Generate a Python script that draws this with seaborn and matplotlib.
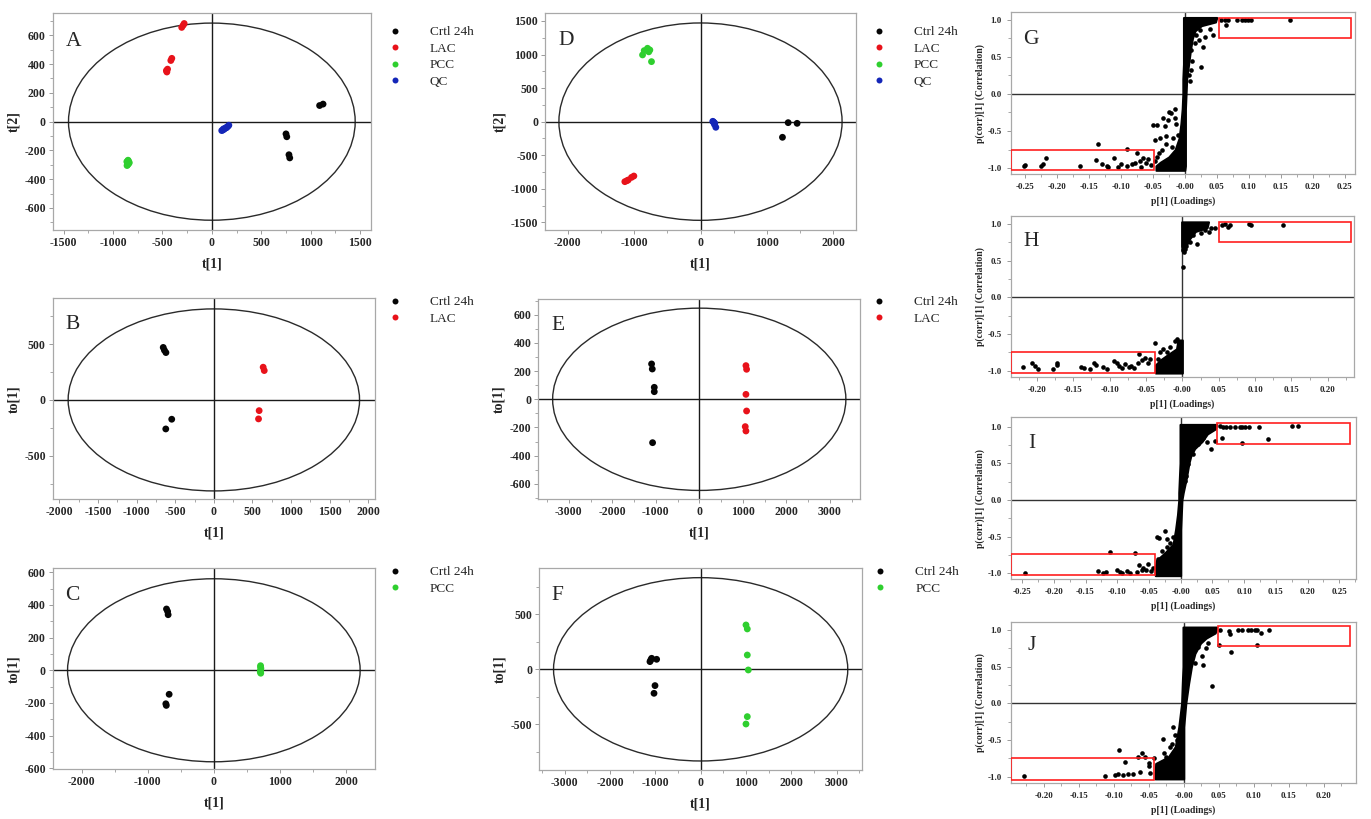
import pandas as pd
import matplotlib
matplotlib.use("Agg")
import matplotlib.pyplot as plt
import seaborn as sns
from matplotlib.patches import Ellipse, Rectangle
from matplotlib.lines import Line2D
from matplotlib.ticker import MultipleLocator, AutoMinorLocator, FuncFormatter

# ---------------- score plots ----------------
# panel A  PCA, all groups
A_CTRL_T1 = [1090, 1125, 750, 758, 780, 788]
A_CTRL_T2 = [112, 122, -85, -105, -230, -252]
A_LAC_T1 = [-305, -290, -280, -415, -405, -455, -448, -460]
A_LAC_T2 = [655, 670, 682, 425, 440, 345, 365, 355]
A_PCC_T1 = [-860, -845, -852, -835, -858, -842, -848]
A_PCC_T2 = [-278, -272, -300, -285, -305, -292, -268]
A_QC_T1 = [100, 112, 125, 138, 150, 162, 172, 118, 145]
A_QC_T2 = [-62, -58, -52, -45, -40, -33, -25, -50, -42]

# panel B  OPLS-DA Ctrl vs LAC
B_CTRL_T1 = [-655, -640, -620, -545, -622]
B_CTRL_T2 = [470, 445, 424, -173, -260]
B_LAC_T1 = [638, 652, 586, 578]
B_LAC_T2 = [293, 263, -96, -170]

# panel C  OPLS-DA Ctrl vs PCC
C_CTRL_T1 = [-717, -700, -692, -677, -727, -720]
C_CTRL_T2 = [375, 360, 340, -147, -205, -215]
C_PCC_T1 = [707, 712, 705, 710, 708, 703]
C_PCC_T2 = [28, 12, -3, -18, 20, -10]

# panel D  PCA, all groups (second mode)
D_CTRL_T1 = [1322, 1457, 1236]
D_CTRL_T2 = [-15, -25, -233]
D_LAC_T1 = [-1141, -1110, -1090, -1040, -1005]
D_LAC_T2 = [-894, -880, -869, -830, -810]
D_PCC_T1 = [-874, -849, -799, -764, -739, -780]
D_PCC_T2 = [994, 1058, 1093, 1068, 894, 1040]
D_QC_T1 = [185, 200, 216, 231, 195, 210]
D_QC_T2 = [5, -10, -25, -84, -5, -40]

# panel E
E_CTRL_T1 = [-1096, -1080, -1034, -1034, -1073]
E_CTRL_T2 = [251, 215, 85, 54, -308]
E_LAC_T1 = [1073, 1088, 1073, 1088, 1057, 1073]
E_LAC_T2 = [239, 213, 35, -83, -194, -225]

# panel F
F_CTRL_T1 = [-1118, -1081, -971, -1007, -1029, -1100]
F_CTRL_T2 = [70, 100, 91, -148, -218, 85]
F_PCC_T1 = [1000, 1029, 1029, 1051, 1029, 1000]
F_PCC_T2 = [403, 367, 130, -6, -430, -497]

# Hotelling T2 ellipses (semi axes)
ELL_A = (1450, 685)
ELL_B = (1885, 815)
ELL_C = (2215, 560)
ELL_D = (2135, 1470)
ELL_E = (3370, 647)
ELL_F = (3245, 833)

# ---------------- S-plots ----------------
# dense core of each S-plot: y level, left and right edge of the point cloud
G_CORE_Y = [1.03, 0.97, 0.92, 0.85, 0.75, 0.6, 0.4, 0.2, 0.0, -0.2, -0.4, -0.6, -0.75, -0.85, -0.92, -0.97, -1.03]
G_CORE_L = [-0.002, -0.002, -0.002, -0.002, -0.002, -0.002, -0.002, -0.003, -0.003, -0.004, -0.006, -0.009, -0.015, -0.025, -0.038, -0.045, -0.045]
G_CORE_R = [0.050, 0.048, 0.026, 0.016, 0.012, 0.009, 0.006, 0.003, 0.002, 0.001, 0.001, 0.001, 0.001, 0.001, 0.001, 0.001, 0.0]
G_PTS_X = [0.057, 0.063, 0.068, 0.081, 0.089, 0.094, 0.099, 0.104, 0.164, 0.064, 0.044, 0.039, 0.031, 0.029,
           0.024, 0.022, 0.025, 0.018, 0.016, 0.010, 0.009, 0.008, 0.012, 0.006,
           -0.251, -0.249, -0.225, -0.222, -0.217, -0.163, -0.136, -0.138, -0.129, -0.122, -0.120, -0.110,
           -0.104, -0.099, -0.091, -0.090, -0.083, -0.078, -0.074, -0.070, -0.068, -0.065, -0.061, -0.057,
           -0.053, -0.049, -0.044, -0.047, -0.043, -0.039, -0.034, -0.031, -0.029, -0.026, -0.024, -0.021,
           -0.018, -0.016, -0.013, -0.010, -0.035, -0.030, -0.020, -0.015, -0.047, -0.040]
G_PTS_Y = [1.0, 1.0, 1.0, 1.0, 1.0, 1.0, 1.0, 1.0, 1.0, 0.93, 0.79, 0.88, 0.77, 0.63,
           0.86, 0.72, 0.36, 0.79, 0.68, 0.59, 0.32, 0.18, 0.45, 0.25,
           -0.97, -0.96, -0.97, -0.94, -0.86, -0.97, -0.68, -0.89, -0.95, -0.97, -0.99, -0.87,
           -0.99, -0.95, -0.74, -0.97, -0.95, -0.93, -0.80, -0.90, -0.99, -0.87, -0.93, -0.88,
           -0.96, -0.42, -0.42, -0.62, -0.85, -0.60, -0.32, -0.43, -0.57, -0.35, -0.24, -0.26,
           -0.60, -0.33, -0.40, -0.55, -0.75, -0.68, -0.72, -0.20, -0.90, -0.80]

H_UP_Y = [1.03, 0.95, 0.9, 0.8, 0.7, 0.62]
H_UP_L = [-0.001, -0.001, -0.001, -0.001, -0.001, 0.0]
H_UP_R = [0.036, 0.034, 0.018, 0.010, 0.005, 0.003]
H_LOW_Y = [-0.58, -0.7, -0.78, -0.85, -0.92, -1.03]
H_LOW_L = [-0.006, -0.008, -0.020, -0.030, -0.037, -0.037]
H_LOW_R = [0.0, 0.0, 0.0, 0.0, 0.0, 0.0]
H_PTS_X = [0.020, 0.031, 0.036, 0.040, 0.045, 0.054, 0.059, 0.063, 0.066, 0.091, 0.094, 0.139, 0.005,
           0.003, 0.001, 0.001, 0.002, 0.010, 0.015, 0.025,
           -0.219, -0.207, -0.202, -0.198, -0.178, -0.173, -0.172, -0.139, -0.135, -0.127, -0.122,
           -0.119, -0.109, -0.103, -0.094, -0.090, -0.087, -0.083, -0.079, -0.074, -0.071, -0.066,
           -0.061, -0.060, -0.056, -0.051, -0.047, -0.044, -0.038, -0.034, -0.031, -0.026, -0.021,
           -0.017, -0.010, -0.007, -0.005]
H_PTS_Y = [0.73, 0.92, 0.89, 0.94, 0.95, 0.99, 1.0, 0.96, 0.99, 1.0, 0.99, 0.99, 0.70,
           0.66, 0.64, 0.42, 0.62, 0.76, 0.85, 0.88,
           -0.95, -0.90, -0.94, -0.98, -0.97, -0.90, -0.92, -0.95, -0.96, -0.98, -0.90,
           -0.92, -0.95, -0.98, -0.86, -0.89, -0.93, -0.96, -0.91, -0.95, -0.93, -0.96,
           -0.89, -0.77, -0.85, -0.82, -0.89, -0.84, -0.62, -0.84, -0.75, -0.70, -0.75,
           -0.68, -0.59, -0.57, -0.61]

I_CORE_Y = [1.03, 0.97, 0.9, 0.8, 0.7, 0.6, 0.5, 0.3, 0.1, 0.0, -0.2, -0.4, -0.6, -0.72, -0.82, -0.9, -1.03]
I_CORE_L = [-0.001, -0.001, -0.001, -0.001, -0.001, -0.001, -0.001, -0.002, -0.003, -0.003, -0.005, -0.008, -0.012, -0.025, -0.038, -0.040, -0.040]
I_CORE_R = [0.057, 0.055, 0.042, 0.034, 0.022, 0.016, 0.013, 0.009, 0.004, 0.002, 0.001, 0.0, 0.0, 0.0, 0.0, 0.0, 0.0]
I_PTS_X = [0.062, 0.067, 0.072, 0.078, 0.085, 0.094, 0.096, 0.101, 0.107, 0.124, 0.175, 0.185, 0.065,
           0.096, 0.138, 0.054, 0.048, 0.041, 0.036, 0.028, 0.020, 0.012, 0.009, 0.007,
           -0.246, -0.130, -0.122, -0.117, -0.112, -0.101, -0.096, -0.093, -0.085, -0.080, -0.072,
           -0.069, -0.065, -0.061, -0.059, -0.055, -0.051, -0.047, -0.043, -0.038, -0.034, -0.025,
           -0.022, -0.021, -0.017, -0.014, -0.012, -0.030, -0.035]
I_PTS_Y = [1.01, 1.0, 1.0, 1.0, 1.0, 1.0, 0.99, 1.0, 1.0, 1.0, 1.01, 1.01, 0.85,
           0.78, 0.83, 0.81, 0.70, 0.79, 0.85, 0.77, 0.63, 0.49, 0.33, 0.26,
           -1.0, -0.97, -0.99, -0.98, -0.71, -0.95, -0.98, -0.99, -0.97, -0.99, -0.72,
           -0.98, -0.89, -0.95, -0.92, -0.95, -0.87, -0.97, -0.92, -0.51, -0.52, -0.42,
           -0.53, -0.64, -0.58, -0.74, -0.51, -0.70, -0.80]

J_CORE_Y = [1.04, 0.96, 0.89, 0.82, 0.68, 0.5, 0.27, 0.0, -0.32, -0.59, -0.73, -0.82, -1.03]
J_CORE_L = [-0.001, -0.001, -0.001, -0.001, -0.001, -0.001, -0.002, -0.003, -0.007, -0.012, -0.022, -0.040, -0.041]
J_CORE_R = [0.047, 0.045, 0.032, 0.024, 0.016, 0.011, 0.007, 0.003, 0.0, 0.0, 0.0, 0.0, 0.0]
J_PTS_X = [0.052, 0.064, 0.066, 0.078, 0.083, 0.092, 0.096, 0.102, 0.104, 0.110, 0.122, 0.104, 0.068,
           0.050, 0.035, 0.032, 0.028, 0.040, 0.026, 0.021, 0.016,
           -0.228, -0.112, -0.098, -0.094, -0.093, -0.084, -0.087, -0.079, -0.072, -0.065, -0.063,
           -0.060, -0.055, -0.050, -0.049, -0.048, -0.043, -0.029, -0.028, -0.025, -0.020, -0.017,
           -0.015, -0.012, -0.010]
J_PTS_Y = [1.0, 0.98, 0.95, 1.0, 1.0, 1.0, 1.0, 1.0, 1.0, 0.96, 1.0, 0.80, 0.70,
           0.80, 0.82, 0.75, 0.52, 0.23, 0.64, 0.77, 0.55,
           -0.99, -0.99, -0.98, -0.96, -0.64, -0.80, -0.98, -0.97, -0.96, -0.73, -0.93,
           -0.68, -0.73, -0.82, -0.86, -0.95, -0.75, -0.48, -0.68, -0.73, -0.59, -0.55,
           -0.32, -0.43, -0.50]

# cut-off boxes (x0, x1, y0, y1)
G_BOXES = [(0.054, 0.260, 0.75, 1.02), (-0.272, -0.048, -1.02, -0.75)]
H_BOXES = [(0.051, 0.232, 0.75, 1.03), (-0.236, -0.038, -1.03, -0.75)]
I_BOXES = [(0.058, 0.267, 0.76, 1.05), (-0.268, -0.040, -1.02, -0.74)]
J_BOXES = [(0.049, 0.238, 0.78, 1.055), (-0.247, -0.042, -1.04, -0.74)]

COLORS = {"Ctrl": "#050505", "LAC": "#e8121a", "PCC": "#2fcf2f", "QC": "#1426b8"}

W, H = 1371, 819
sns.set_theme(style="ticks")
plt.rcParams['font.family'] = ['Liberation Serif', 'DejaVu Serif']
plt.rcParams['font.weight'] = 'bold'
plt.rcParams['axes.labelweight'] = 'bold'
plt.rcParams['axes.unicode_minus'] = False

fig = plt.figure(figsize=(W / 100, H / 100), dpi=100)


def px_axes(l, t, r, b):
    return fig.add_axes([l / W, 1 - b / H, (r - l) / W, (b - t) / H])


def frame(ax, fs, pad=2):
    for sp in ax.spines.values():
        sp.set_color('#a8a8a8')
        sp.set_linewidth(0.9)
    ax.tick_params(which='both', direction='out', color='#9a9a9a', labelsize=fs, pad=pad,
                   top=False, right=False)
    ax.tick_params(which='major', length=3, width=0.7)
    ax.tick_params(which='minor', length=2, width=0.6)
    ax.xaxis.set_minor_locator(AutoMinorLocator(2))
    ax.yaxis.set_minor_locator(AutoMinorLocator(2))


def letter(x, y, s):
    fig.text(x / W, 1 - y / H, s, fontsize=15.5, fontweight='normal', ha='left', va='baseline')


def score_panel(ax, groups, ell, xlim, ylim, xstep, ystep, ylab):
    df = pd.concat([pd.DataFrame({"t1": x, "t2": y, "group": g}) for g, x, y in groups])
    ax.add_patch(Ellipse((0, 0), 2 * ell[0], 2 * ell[1], fill=False, ec='#2a2a2a', lw=1.0))
    ax.axhline(0, color='#1a1a1a', lw=1.0, zorder=1)
    ax.axvline(0, color='#1a1a1a', lw=1.0, zorder=1)
    sns.scatterplot(data=df, x="t1", y="t2", hue="group", palette=COLORS, s=24,
                    linewidth=0, legend=False, ax=ax, zorder=3)
    ax.set_xlim(xlim)
    ax.set_ylim(ylim)
    ax.xaxis.set_major_locator(MultipleLocator(xstep))
    ax.yaxis.set_major_locator(MultipleLocator(ystep))
    ax.set_xlabel("t[1]", fontsize=10, labelpad=6)
    ax.set_ylabel(ylab, fontsize=10, labelpad=3)
    frame(ax, 8.5)


def legend(ax, names, labels, x, y):
    handles = [Line2D([], [], ls='none', marker='o', ms=4.3, mfc=COLORS[n], mec='none') for n in names]
    ax.legend(handles, labels, loc='upper left', bbox_to_anchor=(x / W, 1 - y / H),
              bbox_transform=fig.transFigure, frameon=False, borderpad=0, borderaxespad=0,
              handlelength=0.8, handletextpad=2.25, labelspacing=0.33,
              prop={'family': 'Liberation Serif', 'size': 9.5, 'weight': 'normal'})


def s_panel(ax, cores, px, py, boxes, xlim, ylim):
    for cy, cl, cr in cores:
        ax.fill_betweenx(cy, cl, cr, color='black', ec='black', lw=1.5, zorder=2)
    sns.scatterplot(x=px, y=py, color='black', s=11, linewidth=0, ax=ax, zorder=3)
    for x0, x1, y0, y1 in boxes:
        ax.add_patch(Rectangle((x0, y0), x1 - x0, y1 - y0, fill=False, ec='#ff1f1f', lw=1.2, zorder=4))
    ax.axhline(0, color='#333333', lw=1.0, zorder=1)
    ax.axvline(0, color='#333333', lw=1.0, zorder=1)
    ax.set_xlim(xlim)
    ax.set_ylim(ylim)
    ax.xaxis.set_major_locator(MultipleLocator(0.05))
    ax.yaxis.set_major_locator(MultipleLocator(0.5))
    ax.xaxis.set_major_formatter(FuncFormatter(lambda v, p: "-0.00" if abs(v) < 1e-9 else f"{v:.2f}"))
    ax.yaxis.set_major_formatter(FuncFormatter(lambda v, p: f"{v:.1f}"))
    ax.set_xlabel("p[1] (Loadings)", fontsize=7, labelpad=4)
    ax.set_ylabel("p(corr)[1] (Correlation)", fontsize=7, labelpad=2)
    frame(ax, 6.5, pad=3.5)


# ---- left column ----
axA = px_axes(52.7, 13.3, 371, 230)
score_panel(axA, [("Ctrl", A_CTRL_T1, A_CTRL_T2), ("LAC", A_LAC_T1, A_LAC_T2),
                  ("PCC", A_PCC_T1, A_PCC_T2), ("QC", A_QC_T1, A_QC_T2)],
            ELL_A, (-1610, 1610), (-753, 753), 500, 200, "t[2]")
legend(axA, ["Ctrl", "LAC", "PCC", "QC"], ["Crtl 24h", "LAC", "PCC", "QC"], 389.7, 26)
letter(66, 45.7, "A")

axB = px_axes(52.7, 298.3, 375, 499.3)
score_panel(axB, [("Ctrl", B_CTRL_T1, B_CTRL_T2), ("LAC", B_LAC_T1, B_LAC_T2)],
            ELL_B, (-2085, 2085), (-890, 910), 500, 500, "to[1]")
legend(axB, ["Ctrl", "LAC"], ["Crtl 24h", "LAC"], 389.7, 296)
letter(65, 329.3, "B")

axC = px_axes(52.7, 568.3, 375, 769.3)
score_panel(axC, [("Ctrl", C_CTRL_T1, C_CTRL_T2), ("PCC", C_PCC_T1, C_PCC_T2)],
            ELL_C, (-2440, 2440), (-606, 624), 1000, 200, "to[1]")
legend(axC, ["Ctrl", "PCC"], ["Crtl 24h", "PCC"], 389.7, 566)
letter(65, 600, "C")

# ---- middle column ----
axD = px_axes(545, 13.3, 856, 230)
score_panel(axD, [("Ctrl", D_CTRL_T1, D_CTRL_T2), ("LAC", D_LAC_T1, D_LAC_T2),
                  ("PCC", D_PCC_T1, D_PCC_T2), ("QC", D_QC_T1, D_QC_T2)],
            ELL_D, (-2345, 2345), (-1614, 1614), 1000, 500, "t[2]")
legend(axD, ["Ctrl", "LAC", "PCC", "QC"], ["Ctrl 24h", "LAC", "PCC", "QC"], 873.7, 26)
letter(558.3, 45, "D")

axE = px_axes(538.3, 299, 860, 499.3)
score_panel(axE, [("Ctrl", E_CTRL_T1, E_CTRL_T2), ("LAC", E_LAC_T1, E_LAC_T2)],
            ELL_E, (-3700, 3695), (-710, 712), 1000, 200, "to[1]")
legend(axE, ["Ctrl", "LAC"], ["Ctrl 24h", "LAC"], 873.7, 296)
letter(551, 330, "E")

axF = px_axes(539, 568.3, 862.3, 770)
score_panel(axF, [("Ctrl", F_CTRL_T1, F_CTRL_T2), ("PCC", F_PCC_T1, F_PCC_T2)],
            ELL_F, (-3566, 3566), (-915, 918), 1000, 500, "to[1]")
legend(axF, ["Ctrl", "PCC"], ["Ctrl 24h", "PCC"], 875, 566)
letter(551, 600, "F")

# ---- right column: S-plots ----
axG = px_axes(1010.7, 12.3, 1355, 174)
s_panel(axG, [(G_CORE_Y, G_CORE_L, G_CORE_R)], G_PTS_X, G_PTS_Y, G_BOXES, (-0.272, 0.266), (-1.08, 1.10))
letter(1023.3, 44.3, "G")

axH = px_axes(1010.7, 215.7, 1354, 376.7)
s_panel(axH, [(H_UP_Y, H_UP_L, H_UP_R), (H_LOW_Y, H_LOW_L, H_LOW_R)], H_PTS_X, H_PTS_Y, H_BOXES,
        (-0.236, 0.236), (-1.08, 1.114))
letter(1023.3, 246, "H")

axI = px_axes(1010.7, 417.3, 1355.7, 579.3)
s_panel(axI, [(I_CORE_Y, I_CORE_L, I_CORE_R)], I_PTS_X, I_PTS_Y, I_BOXES, (-0.268, 0.276), (-1.08, 1.127))
letter(1028.3, 448.3, "I")

axJ = px_axes(1010.7, 622.3, 1356, 783.3)
s_panel(axJ, [(J_CORE_Y, J_CORE_L, J_CORE_R)], J_PTS_X, J_PTS_Y, J_BOXES, (-0.247, 0.246), (-1.09, 1.105))
letter(1027.7, 650, "J")

fig.savefig("out.png", dpi=100)
